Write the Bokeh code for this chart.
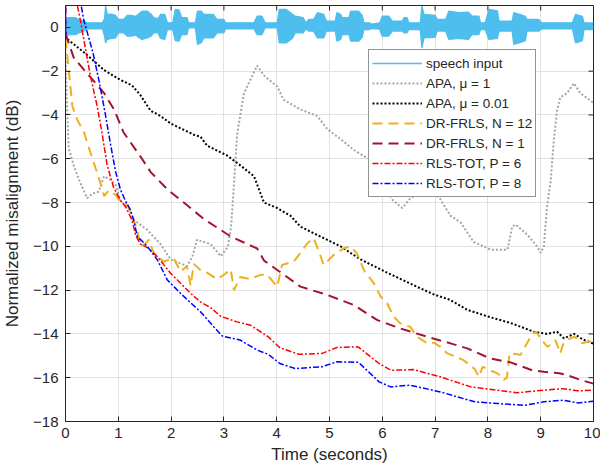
import math
from bokeh.plotting import figure
from bokeh.models import Range1d, Legend, LegendItem, FixedTicker
from bokeh.embed import file_html
from bokeh.resources import INLINE

# ---------------- data ----------------
x_ticks = [0, 1, 2, 3, 4, 5, 6, 7, 8, 9, 10]
y_ticks = [0, -2, -4, -6, -8, -10, -12, -14, -16, -18]
x_lim = [0, 10]
y_lim = [-18, 1]

# speech input envelope (dB scale of the plot)
speech_t = [0.00, 0.03, 0.10, 0.19, 0.25, 0.33, 0.40, 0.55, 0.70, 0.74, 0.76, 0.79, 0.88, 0.95,
            1.00, 1.10, 1.17, 1.25, 1.33, 1.38, 1.45, 1.55, 1.62, 1.67, 1.75, 1.80, 1.88, 1.93,
            2.03, 2.08, 2.15, 2.20, 2.30, 2.33, 2.46, 2.50, 2.57, 2.62, 2.80, 2.87, 3.00, 3.03,
            3.57, 3.63, 3.72, 3.78, 4.01, 4.05, 4.18, 4.30, 4.35, 4.50, 4.55, 4.61, 4.70, 4.77,
            4.89, 4.94, 5.11, 5.14, 5.21, 5.24, 5.37, 5.40, 5.55, 5.62, 5.65, 5.75, 5.80, 5.95,
            6.00, 6.12, 6.19, 6.38, 6.41, 6.47, 6.50, 6.72, 6.75, 6.79, 7.00, 7.04, 7.20, 7.26,
            7.45, 7.63, 7.70, 7.83, 7.86, 7.95, 8.02, 8.18, 8.21, 8.46, 8.49, 8.60, 8.71, 8.74,
            8.96, 9.02, 9.60, 9.66, 9.79, 9.82, 10.00]
speech_hi = [0.20, 0.45, 0.44, 0.44, 0.36, 0.30, 0.21, 0.21, 0.21, 0.40, 0.97, 0.59, 0.60, 0.55,
             0.36, 0.36, 0.55, 0.55, 0.50, 0.60, 0.74, 0.74, 0.60, 0.44, 0.40, 0.59, 0.59, 0.21,
             0.21, 0.82, 0.80, 0.44, 0.44, 0.21, 0.21, 0.74, 0.74, 0.59, 0.59, 0.36, 0.36, 0.21,
             0.21, 0.51, 0.51, 0.21, 0.21, 0.82, 0.82, 0.60, 0.51, 0.45, 0.21, 0.36, 0.36, 0.67,
             0.60, 0.29, 0.29, 0.67, 0.60, 0.44, 0.44, 0.74, 0.74, 0.55, 0.21, 0.21, 0.15, 0.20,
             0.51, 0.51, 0.29, 0.29, 0.44, 0.44, 0.21, 0.21, 0.97, 0.59, 0.55, 0.36, 0.36, 0.74,
             0.67, 0.70, 0.51, 0.51, 0.21, 0.21, 0.82, 0.75, 0.29, 0.29, 0.67, 0.60, 0.50, 0.36,
             0.36, 0.21, 0.21, 0.59, 0.50, 0.21, 0.21]
speech_lo = [0.00, -0.35, -0.33, -0.33, -0.25, -0.20, -0.07, -0.05, -0.07, -0.40, -0.71, -0.55, -0.50, -0.48,
             -0.25, -0.25, -0.40, -0.40, -0.35, -0.45, -0.55, -0.48, -0.40, -0.25, -0.25, -0.50, -0.55, -0.10,
             -0.10, -0.60, -0.63, -0.33, -0.33, -0.02, -0.02, -0.78, -0.70, -0.48, -0.48, -0.25, -0.25, -0.07,
             -0.07, -0.33, -0.33, -0.02, -0.02, -0.71, -0.71, -0.50, -0.25, -0.25, -0.07, -0.17, -0.17, -0.48,
             -0.48, -0.17, -0.17, -0.63, -0.55, -0.33, -0.33, -0.63, -0.63, -0.45, -0.10, -0.10, -0.05, -0.08,
             -0.40, -0.40, -0.17, -0.17, -0.25, -0.25, -0.10, -0.10, -0.93, -0.48, -0.45, -0.17, -0.17, -0.55,
             -0.50, -0.55, -0.33, -0.33, -0.10, -0.10, -0.55, -0.50, -0.17, -0.17, -0.78, -0.70, -0.60, -0.17,
             -0.17, -0.07, -0.07, -0.71, -0.60, -0.10, -0.10]

# APA, mu = 1
apa1_t = [0, 0.02, 0.06, 0.16, 0.28, 0.41, 0.51, 0.63, 0.73, 0.85, 0.95, 1.04, 1.2, 1.3, 1.55, 1.8,
          1.99, 2.3, 2.4, 2.49, 2.75, 2.94, 3.08, 3.14, 3.19, 3.25, 3.38, 3.5, 3.63, 3.76, 4.01,
          4.13, 4.45, 4.77, 4.96, 5.21, 5.46, 5.74, 6.0, 6.2, 6.38, 6.53, 6.72, 6.85, 7.1, 7.29,
          7.48, 7.73, 8.05, 8.37, 8.46, 8.52, 8.74, 8.93, 9.0, 9.06, 9.12, 9.19, 9.25, 9.31, 9.37,
          9.5, 9.63, 9.75, 10.0]
apa1_d = [-1.0, -3.0, -5.5, -6.35, -7.1, -7.8, -7.6, -7.5, -6.8, -6.95, -7.2, -7.9, -8.3, -8.8, -9.25, -9.9,
          -10.6, -10.9, -10.5, -9.7, -9.9, -10.45, -10.0, -9.0, -7.2, -4.9, -3.0, -2.4, -1.75, -2.2, -2.7,
          -3.3, -3.75, -4.05, -4.65, -5.1, -5.6, -6.0, -7.1, -7.9, -8.25, -7.8, -7.55, -7.27, -7.85, -8.6,
          -8.9, -9.8, -10.15, -10.15, -9.1, -9.0, -9.45, -10.0, -10.3, -10.0, -8.2, -7.0, -5.1, -3.8, -3.2,
          -3.0, -2.55, -3.0, -3.45]

# APA, mu = 0.01
apa2_t = [0, 0.02, 0.38, 0.73, 1.04, 1.26, 1.42, 1.61, 1.8, 2.0, 2.43, 2.56, 2.68, 3.06, 3.31, 3.57,
          3.76, 4.01, 4.26, 4.45, 4.7, 5.21, 5.59, 6.09, 6.66, 6.98, 7.29, 7.61, 7.99, 8.43, 8.87,
          9.12, 9.31, 9.44, 9.63, 9.8, 10.0]
apa2_d = [-0.2, -0.5, -1.2, -1.95, -2.4, -2.65, -3.1, -3.8, -4.05, -4.4, -4.9, -5.0, -5.4, -5.85, -6.3, -6.8,
          -8.0, -8.25, -8.6, -9.1, -9.4, -10.0, -10.6, -11.2, -11.85, -12.2, -12.45, -12.9, -13.2, -13.5, -13.9,
          -14.0, -13.9, -14.2, -14.0, -14.25, -14.45]

# DR-FRLS, N = 12
dr12_t = [0, 0.03, 0.13, 0.22, 0.35, 0.47, 0.6, 0.7, 0.73, 0.82, 0.95, 1.04, 1.17, 1.26, 1.36, 1.42,
          1.5, 1.58, 1.67, 1.86, 2.05, 2.18, 2.3, 2.37, 2.43, 2.56, 2.68, 2.87, 3.0, 3.13, 3.19, 3.31,
          3.5, 3.69, 3.82, 4.01, 4.1, 4.32, 4.45, 4.58, 4.7, 4.8, 4.89, 5.08, 5.27, 5.4, 5.52, 5.65,
          5.84, 5.97, 6.09, 6.22, 6.34, 6.53, 6.66, 6.85, 6.98, 7.1, 7.23, 7.39, 7.54, 7.75, 7.83,
          7.9, 8.04, 8.19, 8.3, 8.36, 8.41, 8.62, 8.84, 8.91, 9.06, 9.13, 9.28, 9.37, 9.42, 9.49,
          9.64, 9.78, 10.0]
dr12_d = [-0.5, -1.2, -3.6, -4.2, -4.8, -5.7, -6.65, -7.4, -7.7, -7.45, -7.65, -7.95, -8.1, -8.6, -9.25, -10.0,
          -9.9, -9.7, -10.3, -10.7, -10.55, -11.15, -10.9, -11.8, -10.8, -11.1, -11.2, -11.5, -11.3, -11.05, -12.0, -11.4,
          -11.5, -11.3, -11.3, -11.84, -10.85, -10.7, -10.3, -9.86, -9.63, -10.24, -10.85, -10.39, -10.09, -10.01, -10.32, -11.08,
          -11.69, -12.3, -12.6, -13.22, -13.52, -13.68, -14.13, -14.43, -14.4, -14.59, -14.89, -15.04, -15.2, -15.6, -15.96,
          -15.5, -15.66, -15.81, -16.1, -16.0, -14.89, -14.95, -14.0, -13.9, -14.4, -14.59, -14.28, -14.89, -14.5, -14.28,
          -14.13, -14.43, -14.3]

# DR-FRLS, N = 1
dr1_t = [0, 0.16, 0.41, 0.73, 0.92, 1.1, 1.42, 1.61, 1.93, 2.24, 2.62, 3.13, 3.63, 3.76, 4.01, 4.45,
         4.96, 5.46, 5.9, 6.34, 6.85, 7.29, 7.61, 8.04, 8.43, 8.84, 9.06, 9.35, 9.5, 9.75, 10.0]
dr1_d = [-0.3, -1.4, -2.1, -3.0, -3.75, -4.8, -5.9, -6.6, -7.4, -8.0, -8.75, -9.55, -10.1, -10.65, -11.08, -11.84,
         -12.22, -12.68, -13.36, -13.75, -14.13, -14.43, -14.66, -15.12, -15.3, -15.66, -15.73, -15.8, -15.88, -16.1, -16.27]

# RLS-TOT, P = 6
rls6_t = [0, 0.01, 0.2, 0.28, 0.38, 0.47, 0.6, 0.69, 0.79, 0.91, 1.04, 1.14, 1.26, 1.33, 1.42, 1.58,
          1.74, 1.99, 2.37, 2.56, 2.75, 2.94, 3.25, 3.5, 3.84, 4.06, 4.42, 4.86, 5.14, 5.54, 5.94,
          6.16, 6.59, 7.1, 7.68, 8.19, 8.55, 8.91, 9.42, 9.7, 10.0]
rls6_d = [-0.4, 3.0, 1.3, 0.35, -1.0, -2.2, -3.6, -4.8, -6.3, -7.3, -7.9, -8.2, -8.8, -9.5, -9.9, -10.1,
          -10.47, -11.23, -12.15, -12.55, -12.8, -13.2, -13.45, -13.6, -14.13, -14.63, -14.93, -14.89, -14.62, -14.59, -15.35,
          -15.66, -15.63, -15.96, -16.42, -16.57, -16.69, -16.6, -16.5, -16.6, -16.57]

# RLS-TOT, P = 8
rls8_t = [0, 0.01, 0.2, 0.28, 0.35, 0.52, 0.64, 0.75, 0.85, 0.95, 1.04, 1.14, 1.23, 1.3, 1.36, 1.55,
          1.74, 1.93, 2.18, 2.56, 2.81, 2.97, 3.31, 3.63, 3.84, 4.06, 4.35, 4.86, 5.14, 5.55, 5.84,
          5.94, 6.16, 6.52, 7.1, 7.75, 8.19, 8.7, 9.06, 9.42, 9.71, 10.0]
rls8_d = [-0.5, 3.0, 3.0, 1.2, 0.3, -1.15, -2.5, -3.9, -5.3, -6.6, -7.4, -7.95, -8.33, -8.9, -9.55, -10.0,
          -10.62, -11.54, -12.15, -13.0, -13.68, -14.1, -14.28, -14.74, -14.93, -15.35, -15.58, -15.5, -15.27, -15.3, -15.96,
          -16.19, -16.42, -16.34, -16.65, -17.1, -17.18, -17.26, -17.1, -17.03, -17.15, -17.07]

labels = ["speech input", "APA, μ = 1", "APA, μ = 0.01", "DR-FRLS, N = 12",
          "DR-FRLS, N = 1", "RLS-TOT, P = 6", "RLS-TOT, P = 8"]

# ---------------- figure ----------------
FONT = "Liberation Sans"
TXT = "#262626"

p = figure(width=600, height=470, x_range=Range1d(*x_lim), y_range=Range1d(*y_lim),
           output_backend="svg", toolbar_location=None,
           min_border_left=65, min_border_right=7, min_border_top=5, min_border_bottom=49)
p.background_fill_color = "white"
p.border_fill_color = "white"
p.outline_line_color = TXT
p.outline_line_width = 1

for ax, ticks in ((p.xaxis[0], x_ticks), (p.yaxis[0], y_ticks)):
    ax.ticker = FixedTicker(ticks=ticks)
    ax.major_tick_in = 5
    ax.major_tick_out = 0
    ax.minor_tick_line_color = None
    ax.axis_line_color = TXT
    ax.major_tick_line_color = TXT
    ax.major_label_text_font = FONT
    ax.major_label_text_font_size = "15px"
    ax.major_label_text_color = TXT
    ax.axis_label_text_font = FONT
    ax.axis_label_text_font_size = "17px"
    ax.axis_label_text_font_style = "normal"
    ax.axis_label_text_color = TXT

p.xaxis.axis_label = "Time (seconds)"
p.yaxis.axis_label = "Normalized misalignment (dB)"
p.xaxis.major_label_standoff = 6
p.xaxis.axis_label_standoff = 4
p.yaxis.major_label_standoff = 7
p.yaxis.axis_label_standoff = 8

p.xgrid.ticker = FixedTicker(ticks=x_ticks)
p.ygrid.ticker = FixedTicker(ticks=y_ticks)
p.xgrid.grid_line_color = "#E2E2E2"
p.ygrid.grid_line_color = "#E2E2E2"

# inward tick marks on the top and right edges of the box (half of each dash is clipped away)
p.scatter(x=x_ticks, y=[y_lim[1]] * len(x_ticks), marker="dash", size=10, angle=math.pi / 2,
          line_color=TXT, line_width=1)
p.scatter(x=[x_lim[1]] * len(y_ticks), y=y_ticks, marker="dash", size=10,
          line_color=TXT, line_width=1)

# speech input
p.varea(x=speech_t, y1=speech_lo, y2=speech_hi, fill_color="#4DBEEE", fill_alpha=1.0)
r_sp = p.line(speech_t, speech_hi, line_color="#4DBEEE", line_width=1.3)
p.line(speech_t, speech_lo, line_color="#4DBEEE", line_width=1.3)

r1 = p.line(apa1_t, apa1_d, line_color="#A5A5A5", line_width=2, line_dash="2 2")
r2 = p.line(apa2_t, apa2_d, line_color="#000000", line_width=2, line_dash="2 2")
r3 = p.line(dr12_t, dr12_d, line_color="#EDB120", line_width=2, line_dash="10 6")
r4 = p.line(dr1_t, dr1_d, line_color="#A2142F", line_width=2, line_dash="10 6")
r5 = p.line(rls6_t, rls6_d, line_color="#FF0000", line_width=1.5, line_dash="6 2 2 2")
r6 = p.line(rls8_t, rls8_d, line_color="#0000FF", line_width=1.5, line_dash="6 2 2 2")

items = [LegendItem(label=lab, renderers=[r]) for lab, r in zip(labels, [r_sp, r1, r2, r3, r4, r5, r6])]
legend = Legend(items=items, location=(303, 224), orientation="vertical",
                label_text_font=FONT, label_text_font_size="13.5px", label_text_color=TXT,
                glyph_width=50, glyph_height=20, label_height=20, spacing=0, padding=3,
                label_standoff=4, margin=0,
                border_line_color=TXT, border_line_width=1,
                background_fill_color="white", background_fill_alpha=1.0)
p.add_layout(legend)

open("out.html", "w").write(file_html(p, INLINE))
